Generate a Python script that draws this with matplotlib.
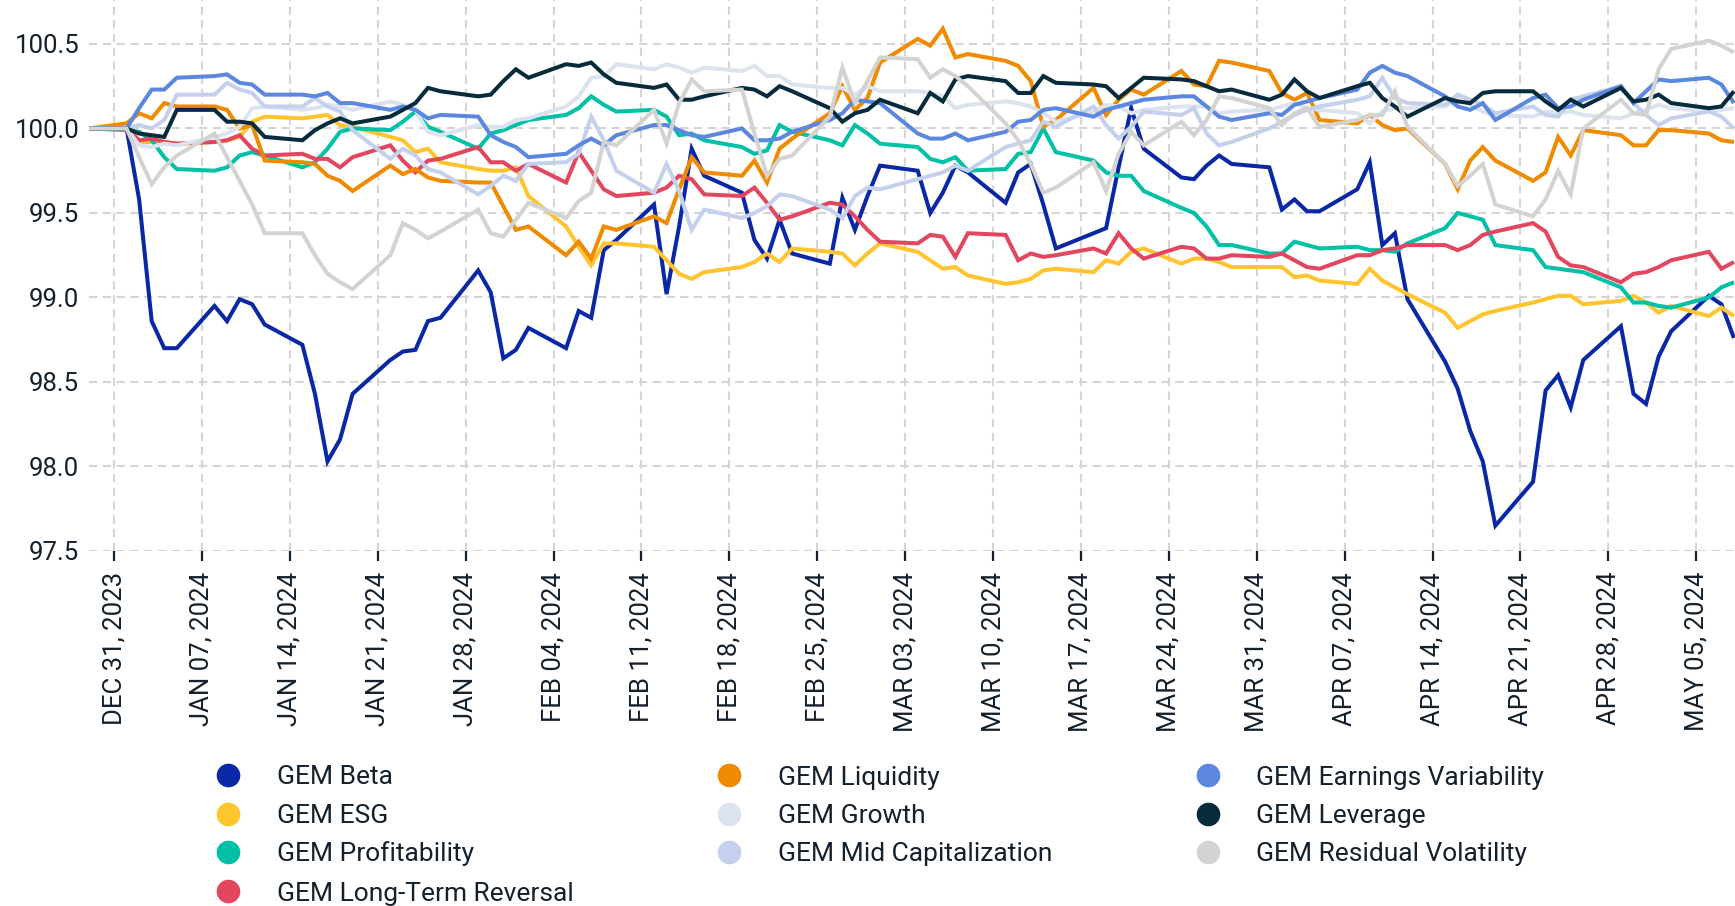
import matplotlib
matplotlib.use("Agg")
import matplotlib.pyplot as plt
import matplotlib.dates as mdates
from matplotlib.lines import Line2D
from matplotlib.ticker import FuncFormatter
import pandas as pd

plt.rcParams['font.family'] = ['Roboto', 'DejaVu Sans']

# ---------------- data ----------------
dates = [pd.Timestamp('2023-12-29')] + list(pd.bdate_range('2024-01-01', '2024-05-08'))

beta = [100.00,
        100.00, 99.58, 98.86, 98.70, 98.70,
        98.95, 98.86, 98.99, 98.96, 98.84,
        98.72, 98.43, 98.03, 98.16, 98.43,
        98.63, 98.68, 98.69, 98.86, 98.88,
        99.16, 99.03, 98.64, 98.69, 98.82,
        98.70, 98.92, 98.88, 99.28, 99.34,
        99.55, 99.02, 99.42, 99.88, 99.72,
        99.62, 99.34, 99.23, 99.46, 99.26,
        99.20, 99.59, 99.40, 99.60, 99.78,
        99.75, 99.50, 99.62, 99.78, 99.74,
        99.56, 99.74, 99.79, 99.55, 99.29,
        99.38, 99.41, 99.77, 100.12, 99.88,
        99.71, 99.70, 99.78, 99.84, 99.79,
        99.77, 99.52, 99.58, 99.51, 99.51,
        99.64, 99.80, 99.31, 99.38, 98.99,
        98.62, 98.46, 98.21, 98.03, 97.65,
        97.91, 98.45, 98.54, 98.35, 98.63,
        98.83, 98.43, 98.37, 98.65, 98.80,
        99.01, 98.96, 98.76]

esg = [100.00,
       100.00, 99.92, 99.92, 99.92, 99.91,
       99.92, 99.93, 99.95, 100.04, 100.07,
       100.06, 100.07, 100.08, 100.02, 100.01,
       99.95, 99.93, 99.86, 99.88, 99.80,
       99.76, 99.75, 99.75, 99.77, 99.60,
       99.42, 99.30, 99.19, 99.32, 99.32,
       99.30, 99.22, 99.14, 99.11, 99.15,
       99.18, 99.21, 99.26, 99.21, 99.29,
       99.27, 99.26, 99.19, 99.26, 99.32,
       99.27, 99.22, 99.17, 99.18, 99.13,
       99.08, 99.09, 99.11, 99.16, 99.17,
       99.15, 99.22, 99.20, 99.27, 99.29,
       99.20, 99.23, 99.23, 99.21, 99.18,
       99.18, 99.18, 99.12, 99.13, 99.10,
       99.08, 99.17, 99.10, 99.06, 99.02,
       98.91, 98.82, 98.86, 98.90, 98.92,
       98.97, 98.99, 99.01, 99.01, 98.96,
       98.98, 99.01, 98.97, 98.91, 98.95,
       98.89, 98.94, 98.89]

profitability = [100.00,
                 99.99, 99.98, 99.93, 99.83, 99.76,
                 99.75, 99.77, 99.84, 99.86, 99.84,
                 99.77, 99.80, 99.88, 99.98, 100.00,
                 99.99, 100.04, 100.10, 100.01, 99.98,
                 99.88, 99.97, 99.99, 100.02, 100.05,
                 100.08, 100.12, 100.19, 100.14, 100.10,
                 100.11, 100.07, 99.96, 99.97, 99.93,
                 99.89, 99.85, 99.87, 100.02, 99.98,
                 99.93, 99.90, 100.02, 99.97, 99.91,
                 99.89, 99.82, 99.80, 99.83, 99.75,
                 99.76, 99.85, 99.86, 100.00, 99.86,
                 99.81, 99.74, 99.72, 99.72, 99.63,
                 99.53, 99.50, 99.42, 99.31, 99.31,
                 99.26, 99.26, 99.33, 99.31, 99.29,
                 99.30, 99.28, 99.28, 99.27, 99.32,
                 99.41, 99.50, 99.48, 99.46, 99.31,
                 99.28, 99.18, 99.17, 99.16, 99.15,
                 99.06, 98.97, 98.97, 98.95, 98.94,
                 99.00, 99.06, 99.09]

long_term_reversal = [100.00,
                      100.00, 99.93, 99.94, 99.92, 99.91,
                      99.92, 99.93, 99.96, 99.88, 99.84,
                      99.85, 99.82, 99.82, 99.77, 99.83,
                      99.90, 99.81, 99.74, 99.81, 99.82,
                      99.89, 99.80, 99.80, 99.75, 99.79,
                      99.68, 99.86, 99.75, 99.64, 99.60,
                      99.62, 99.65, 99.72, 99.70, 99.61,
                      99.60, 99.65, 99.56, 99.46, 99.48,
                      99.56, 99.55, 99.48, 99.40, 99.33,
                      99.32, 99.37, 99.36, 99.24, 99.38,
                      99.37, 99.22, 99.26, 99.24, 99.25,
                      99.29, 99.26, 99.38, 99.29, 99.23,
                      99.30, 99.29, 99.23, 99.23, 99.25,
                      99.24, 99.26, 99.22, 99.18, 99.17,
                      99.25, 99.25, 99.28, 99.29, 99.31,
                      99.31, 99.28, 99.31, 99.37, 99.39,
                      99.44, 99.39, 99.24, 99.19, 99.18,
                      99.09, 99.14, 99.15, 99.18, 99.22,
                      99.27, 99.17, 99.21]

liquidity = [100.00,
             100.03, 100.09, 100.06, 100.15, 100.13,
             100.13, 100.11, 100.00, 100.02, 99.81,
             99.80, 99.79, 99.72, 99.69, 99.63,
             99.78, 99.73, 99.76, 99.71, 99.69,
             99.68, 99.68, 99.54, 99.40, 99.42,
             99.25, 99.33, 99.23, 99.42, 99.40,
             99.48, 99.44, 99.64, 99.83, 99.74,
             99.72, 99.81, 99.68, 99.88, 99.94,
             100.09, 100.25, 100.11, 100.18, 100.39,
             100.53, 100.49, 100.59, 100.42, 100.44,
             100.40, 100.37, 100.28, 100.01, 100.05,
             100.24, 100.08, 100.17, 100.23, 100.20,
             100.34, 100.26, 100.25, 100.40, 100.39,
             100.34, 100.21, 100.17, 100.21, 100.05,
             100.03, 100.08, 100.02, 99.99, 100.00,
             99.79, 99.64, 99.81, 99.89, 99.81,
             99.69, 99.74, 99.95, 99.84, 99.99,
             99.96, 99.90, 99.90, 99.99, 99.99,
             99.97, 99.93, 99.92]

growth = [100.00,
          100.00, 99.90, 99.89, 99.91, 99.90,
          99.95, 99.97, 100.01, 100.12, 100.13,
          100.11, 100.12, 100.14, 100.13, 100.11,
          100.16, 100.14, 100.11, 99.98, 99.96,
          100.02, 100.01, 100.01, 100.05, 100.06,
          100.13, 100.19, 100.30, 100.31, 100.38,
          100.35, 100.38, 100.36, 100.33, 100.36,
          100.34, 100.37, 100.31, 100.31, 100.26,
          100.24, 100.24, 100.20, 100.25, 100.22,
          100.22, 100.21, 100.19, 100.12, 100.14,
          100.16, 100.15, 100.13, 100.09, 100.04,
          100.10, 100.14, 100.13, 100.09, 100.11,
          100.13, 100.13, 100.13, 100.09, 100.10,
          100.11, 100.13, 100.15, 100.12, 100.11,
          100.09, 100.03, 100.10, 100.12, 100.12,
          100.13, 100.18, 100.14, 100.10, 100.08,
          100.07, 100.10, 100.09, 100.10, 100.08,
          100.06, 100.09, 100.11, 100.14, 100.12,
          100.10, 100.11, 100.12]

mid_cap = [100.00,
           100.00, 100.02, 100.00, 100.05, 100.20,
           100.20, 100.27, 100.23, 100.21, 100.13,
           100.13, 100.18, 100.13, 100.10, 99.99,
           99.82, 99.88, 99.84, 99.76, 99.74,
           99.61, 99.66, 99.72, 99.69, 99.79,
           99.80, 99.85, 100.07, 99.93, 99.75,
           99.62, 99.79, 99.63, 99.40, 99.52,
           99.47, 99.50, 99.54, 99.61, 99.60,
           99.52, 99.47, 99.60, 99.65, 99.64,
           99.70, 99.72, 99.74, 99.78, 99.75,
           99.89, 99.91, 99.93, 100.04, 100.01,
           100.13, 100.02, 99.94, 100.01, 100.10,
           100.08, 100.12, 99.97, 99.90, 99.92,
           100.00, 100.04, 100.08, 100.11, 100.13,
           100.17, 100.19, 100.30, 100.18, 100.15,
           100.14, 100.20, 100.17, 100.14, 100.09,
           100.13, 100.08, 100.07, 100.17, 100.19,
           100.25, 100.15, 100.08, 100.02, 100.06,
           100.10, 100.07, 100.00]

earnings_variability = [100.00,
                        100.00, 100.12, 100.23, 100.23, 100.30,
                        100.31, 100.32, 100.27, 100.26, 100.20,
                        100.20, 100.19, 100.21, 100.15, 100.15,
                        100.11, 100.13, 100.11, 100.06, 100.08,
                        100.07, 99.96, 99.92, 99.89, 99.83,
                        99.85, 99.90, 99.94, 99.90, 99.96,
                        100.02, 100.02, 99.99, 99.96, 99.95,
                        100.00, 99.93, 99.93, 99.94, 99.98,
                        100.05, 100.09, 100.17, 100.16, 100.15,
                        99.97, 99.94, 99.94, 99.97, 99.93,
                        99.98, 100.04, 100.05, 100.11, 100.12,
                        100.07, 100.11, 100.13, 100.15, 100.17,
                        100.19, 100.19, 100.13, 100.07, 100.05,
                        100.09, 100.08, 100.14, 100.16, 100.18,
                        100.23, 100.33, 100.37, 100.33, 100.31,
                        100.19, 100.13, 100.11, 100.15, 100.05,
                        100.18, 100.20, 100.12, 100.13, 100.17,
                        100.25, 100.15, 100.22, 100.29, 100.28,
                        100.30, 100.26, 100.15]

leverage = [100.00,
            100.00, 99.97, 99.96, 99.95, 100.11,
            100.11, 100.04, 100.04, 100.03, 99.95,
            99.93, 99.99, 100.03, 100.06, 100.03,
            100.07, 100.11, 100.15, 100.24, 100.22,
            100.19, 100.20, 100.28, 100.35, 100.30,
            100.38, 100.37, 100.39, 100.32, 100.27,
            100.24, 100.26, 100.17, 100.17, 100.19,
            100.24, 100.23, 100.19, 100.25, 100.22,
            100.12, 100.04, 100.09, 100.11, 100.17,
            100.09, 100.21, 100.16, 100.29, 100.31,
            100.28, 100.21, 100.21, 100.31, 100.27,
            100.26, 100.25, 100.18, 100.24, 100.30,
            100.29, 100.28, 100.25, 100.22, 100.23,
            100.17, 100.20, 100.29, 100.22, 100.18,
            100.25, 100.27, 100.18, 100.13, 100.07,
            100.18, 100.16, 100.15, 100.21, 100.22,
            100.22, 100.16, 100.11, 100.17, 100.13,
            100.24, 100.16, 100.17, 100.20, 100.15,
            100.12, 100.13, 100.22]

residual_volatility = [100.00,
                       100.00, 99.83, 99.67, 99.77, 99.84,
                       99.97, 99.83, 99.69, 99.55, 99.38,
                       99.38, 99.25, 99.14, 99.09, 99.05,
                       99.25, 99.44, 99.40, 99.35, 99.39,
                       99.52, 99.38, 99.36, 99.46, 99.56,
                       99.47, 99.57, 99.62, 99.92, 99.90,
                       100.11, 99.91, 100.15, 100.29, 100.22,
                       100.23, 99.97, 99.72, 99.82, 99.84,
                       100.07, 100.36, 100.15, 100.28, 100.42,
                       100.41, 100.30, 100.35, 100.31, 100.25,
                       100.03, 99.93, 99.79, 99.62, 99.65,
                       99.80, 99.63, 99.85, 99.98, 99.90,
                       100.04, 99.96, 100.05, 100.19, 100.18,
                       100.12, 100.02, 100.09, 100.12, 100.01,
                       100.05, 100.08, 100.08, 100.22, 100.01,
                       99.79, 99.66, 99.72, 99.79, 99.55,
                       99.48, 99.58, 99.75, 99.61, 100.00,
                       100.17, 100.09, 100.08, 100.35, 100.47,
                       100.52, 100.49, 100.45]

series_names = ["GEM Beta", "GEM ESG", "GEM Profitability", "GEM Long-Term Reversal",
                "GEM Liquidity", "GEM Growth", "GEM Mid Capitalization",
                "GEM Earnings Variability", "GEM Leverage", "GEM Residual Volatility"]
series_values = [beta, esg, profitability, long_term_reversal,
                 liquidity, growth, mid_cap,
                 earnings_variability, leverage, residual_volatility]
series_colors = ["#0A27A6", "#FFC42E", "#00C1A7", "#E2475F",
                 "#F08A00", "#DCE3EE", "#C5D0EC",
                 "#5B88DE", "#062B3C", "#D3D4D1"]

y_ticks = [97.5, 98.0, 98.5, 99.0, 99.5, 100.0, 100.5]
x_ticks = pd.date_range('2023-12-31', '2024-05-05', freq='7D')

# ---------------- figure ----------------
W, H = 1735, 906
fig = plt.figure(figsize=(W / 100, H / 100), dpi=100)
ax_left = 88.9 / W
ax_bottom = 1 - 551 / H
ax = fig.add_axes([ax_left, ax_bottom, 1 - ax_left, 1 - ax_bottom])

text_color = "#14202B"

for name, vals, col in zip(series_names, series_values, series_colors):
    ax.plot(dates, vals, color=col, lw=2.9, label=name, solid_joinstyle='miter',
            solid_capstyle='butt')

ax.set_xlim(pd.Timestamp('2023-12-29'), pd.Timestamp('2024-05-08') + pd.Timedelta(hours=2))
ax.set_ylim(97.5, 100.76)

ax.set_yticks(y_ticks)
ax.yaxis.set_major_formatter(FuncFormatter(lambda v, p: f"{v:.1f}"))
ax.set_xticks(list(x_ticks))
ax.xaxis.set_major_formatter(FuncFormatter(
    lambda v, p: mdates.num2date(v).strftime('%b %d, %Y').upper()))

ax.tick_params(axis='y', length=0, pad=7, labelsize=18.5, labelcolor=text_color)
ax.tick_params(axis='x', length=7, width=1.6, color=text_color, pad=8,
               labelsize=18.5, labelcolor=text_color, labelrotation=90)

ax.grid(True, color="#D5D5D5", lw=1.5, linestyle=(0, (4, 2.6)))
ax.set_axisbelow(True)
for s in ax.spines.values():
    s.set_visible(False)

# ---------------- legend (manual) ----------------
col_marker_x = [228, 729, 1208]
col_text_x = [277, 778, 1256]
row_y = [775, 813.5, 852, 891]
layout = [(0, 0), (0, 1), (0, 2), (0, 3),
          (1, 0), (1, 1), (1, 2),
          (2, 0), (2, 1), (2, 2)]
for (c, r), name, colr in zip(layout, series_names, series_colors):
    my = 1 - row_y[r] / H
    fig.add_artist(Line2D([col_marker_x[c] / W], [my], marker='o', markersize=16,
                          markerfacecolor=colr, markeredgecolor=colr,
                          linestyle='none', transform=fig.transFigure))
    fig.text(col_text_x[c] / W, 1 - (row_y[r] + 9.5) / H, name, ha='left',
             va='baseline', fontsize=19, color=text_color)

fig.savefig("out.png", dpi=100)
